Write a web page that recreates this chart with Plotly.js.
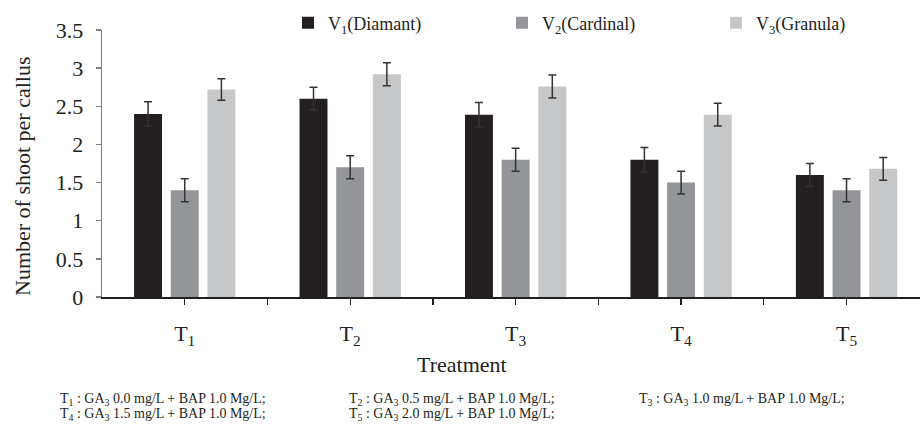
<!DOCTYPE html>
<html>
<head>
<meta charset="utf-8">
<script src="https://cdn.plot.ly/plotly-3.0.1.min.js"></script>
<style>html,body{margin:0;padding:0;background:#fff;}#chart{width:920px;height:426px;}</style>
</head>
<body>
<div id="chart"></div>
<script>
const treatments = ['T<sub>1</sub>', 'T<sub>2</sub>', 'T<sub>3</sub>', 'T<sub>4</sub>', 'T<sub>5</sub>'];
const seriesNames = ['V<sub>1</sub>(Diamant)', 'V<sub>2</sub>(Cardinal)', 'V<sub>3</sub>(Granula)'];
const v1 = [2.40, 2.60, 2.39, 1.80, 1.60];
const v2 = [1.40, 1.70, 1.80, 1.50, 1.40];
const v3 = [2.72, 2.92, 2.76, 2.39, 1.68];
const v1Err = [0.16, 0.15, 0.16, 0.16, 0.15];
const v2Err = [0.15, 0.15, 0.15, 0.15, 0.15];
const v3Err = [0.14, 0.15, 0.15, 0.15, 0.15];
const yTicks = [0, 0.5, 1, 1.5, 2, 2.5, 3, 3.5];
const xTitle = 'Treatment';
const yTitle = 'Number of shoot per callus';
const footnotes = [
  'T<sub>1</sub> : GA<sub>3</sub> 0.0 mg/L + BAP 1.0 Mg/L;',
  'T<sub>2</sub> : GA<sub>3</sub> 0.5 mg/L + BAP 1.0 Mg/L;',
  'T<sub>3</sub> : GA<sub>3</sub> 1.0 mg/L + BAP 1.0 Mg/L;',
  'T<sub>4</sub> : GA<sub>3</sub> 1.5 mg/L + BAP 1.0 Mg/L;',
  'T<sub>5</sub> : GA<sub>3</sub> 2.0 mg/L + BAP 1.0 Mg/L;'
];

const colors = ['#231f20', '#939598', '#c6c7c9'];
const FONT = 'Liberation Serif, Times New Roman, serif';
const TXT = '#231f20';
const L = 102, W = 818, T = 30, H = 267;   // plot area in px
const px2x = p => (p - L) / W;
const px2y = p => (T + H - p) / H;

const xIdx = treatments.map((_, i) => i);
const values = [v1, v2, v3];
const errs = [v1Err, v2Err, v3Err];
const legendIds = ['legend', 'legend2', 'legend3'];
const legendTextX = [328, 542, 756];

const traces = values.map((vals, k) => ({
  type: 'bar',
  name: seriesNames[k],
  legend: legendIds[k],
  x: xIdx,
  y: vals,
  marker: {color: colors[k]},
  error_y: {type: 'data', array: errs[k], visible: true, color: '#333333', thickness: 1.5, width: 4},
  hoverinfo: 'skip'
}));

// boundary ticks between categories
const boundaries = xIdx.map(i => i + 0.5);

const footX = [58, 347, 637];
const annotations = [
  {text: xTitle, xref: 'paper', yref: 'paper', x: px2x(462), y: px2y(364), xanchor: 'center', yanchor: 'middle',
   showarrow: false, font: {family: FONT, size: 22, color: TXT}},
  {text: yTitle, xref: 'paper', yref: 'paper', x: px2x(22), y: px2y(176), xanchor: 'center', yanchor: 'middle',
   textangle: -90, showarrow: false, font: {family: FONT, size: 22, color: TXT}}
];
footnotes.forEach((t, i) => {
  const row = Math.floor(i / 3), col = i % 3;
  annotations.push({
    text: t, xref: 'paper', yref: 'paper',
    x: px2x(footX[col]), y: px2y(399 + row * 15),
    xanchor: 'left', yanchor: 'middle', showarrow: false,
    font: {family: FONT, size: 14, color: TXT}
  });
});

const layout = {
  width: 920, height: 426,
  margin: {l: L, r: 920 - L - W, t: T, b: 426 - T - H, pad: 0},
  paper_bgcolor: '#ffffff', plot_bgcolor: '#ffffff',
  font: {family: FONT, color: TXT},
  barmode: 'group', bargap: 0.335, bargroupgap: 0.238,
  showlegend: true,
  xaxis: {
    range: [-0.5, 4.444], tickmode: 'array', tickvals: xIdx, ticktext: treatments,
    ticks: 'outside', ticklen: 6, tickcolor: TXT, tickwidth: 1.3,
    minor: {tickmode: 'array', tickvals: boundaries, ticks: 'outside', ticklen: 6, tickcolor: TXT, tickwidth: 1.3, showgrid: false},
    showline: true, linecolor: TXT, linewidth: 1.5,
    showgrid: false, zeroline: false, fixedrange: true,
    tickfont: {family: FONT, size: 22, color: TXT}, ticklabelstandoff: 10
  },
  yaxis: {
    range: [0, 3.5], tickmode: 'array', tickvals: yTicks, ticktext: yTicks.map(String),
    ticks: 'outside', ticklen: 5, tickcolor: '#7f7f7f', tickwidth: 1.3,
    showline: true, linecolor: '#7f7f7f', linewidth: 1.3,
    showgrid: false, zeroline: false, fixedrange: true,
    tickfont: {family: FONT, size: 22, color: TXT}, ticklabelstandoff: 8
  },
  annotations: annotations
};
legendIds.forEach((id, k) => {
  layout[id] = {
    orientation: 'h', x: px2x(legendTextX[k] - 40), y: px2y(23), xanchor: 'left', yanchor: 'middle',
    font: {family: FONT, size: 18, color: TXT}, bgcolor: 'rgba(0,0,0,0)', itemclick: false
  };
});

Plotly.newPlot('chart', traces, layout, {displayModeBar: false, staticPlot: true});
</script>
</body>
</html>
